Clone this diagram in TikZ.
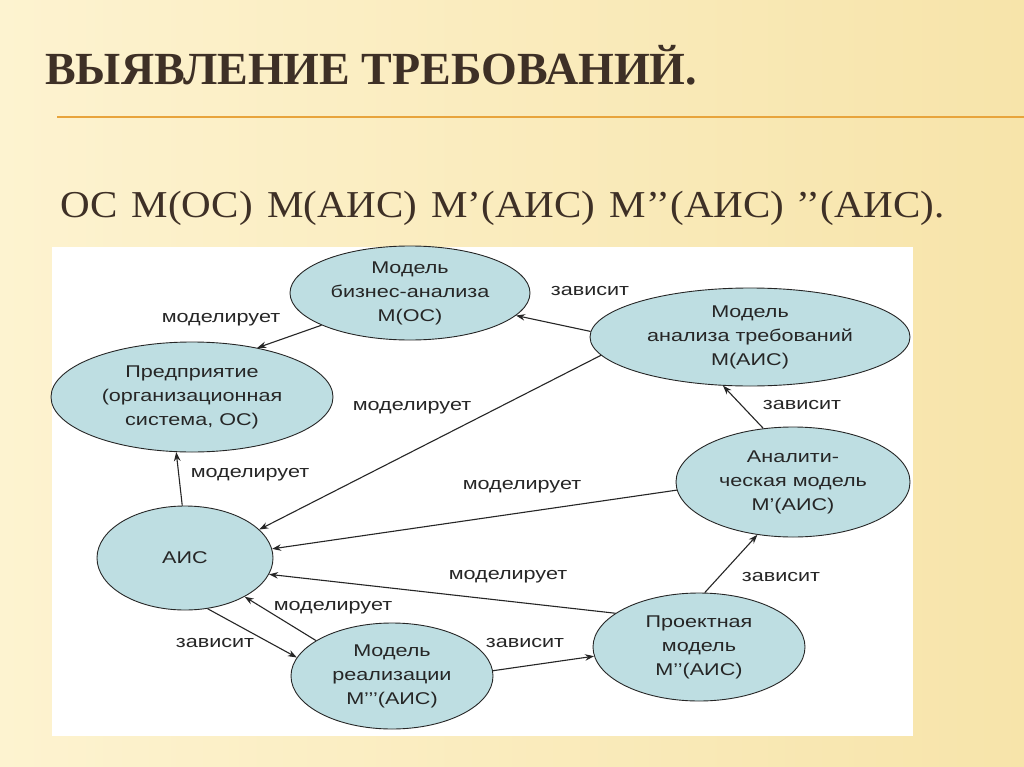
\documentclass[tikz,border=0pt]{standalone}
\usepackage{fontspec}
\setmainfont{Liberation Serif}
\newfontfamily\diagfont[FakeStretch=1.27]{Liberation Sans}
\newfontfamily\modelsfont[FakeStretch=1.08]{Liberation Serif}
\usetikzlibrary{shapes.geometric,arrows.meta}

\definecolor{slidebg}{RGB}{253,243,208}
\definecolor{slidebgdark}{RGB}{247,228,170}
\definecolor{titlebrown}{RGB}{62,48,38}
\definecolor{ruleorange}{RGB}{232,164,60}
\definecolor{ovalfill}{RGB}{190,222,226}

\tikzset{
  oval/.style={ellipse,draw=black!85,fill=ovalfill,line width=0.9pt,inner sep=-8pt,
    align=center,text=black!85,font=\diagfont\fontsize{17}{24}\selectfont},
  lbl/.style={text=black!85,font=\diagfont\fontsize{17}{19}\selectfont},
  link/.style={->,line width=1.1pt,draw=black!85}
}

\begin{document}
\begin{tikzpicture}[x=1pt,y=-1pt,>={Stealth[length=9pt,width=6.5pt]}]
\useasboundingbox (0,0) rectangle (1024,767);
\shade[left color=slidebg,right color=slidebgdark] (0,0) rectangle (1024,767);

% heading
\node[anchor=base west,inner sep=0pt,text=titlebrown,
  font=\bfseries\fontsize{46}{50}\selectfont] (title) at (45,85) {ВЫЯВЛЕНИЕ ТРЕБОВАНИЙ.};
\draw[ruleorange,line width=1.5pt] (57,117) -- (1024,117);
\node[anchor=base west,inner sep=0pt,text=titlebrown,
  font=\modelsfont\fontsize{38}{42}\selectfont] (models) at (60,218)
  {ОС\hspace{14pt}М(ОС)\hspace{14pt}М(АИС)\hspace{14pt}М’(АИС)\hspace{14pt}М’’(АИС)\hspace{12pt}’’(АИС).};

% diagram
\fill[white] (52,247) rectangle (913,736);

\node[oval,minimum width=240pt,minimum height=94pt] (bus) at (410,293) {Модель\\бизнес-анализа\\М(ОС)};
\node[oval,minimum width=320pt,minimum height=98pt] (req) at (750,337) {Модель\\анализа требований\\М(АИС)};
\node[oval,minimum width=282pt,minimum height=110pt] (ent) at (192,397) {Предприятие\\(организационная\\система, ОС)};
\node[oval,minimum width=234pt,minimum height=110pt] (ana) at (793,482) {Аналити-\\ческая модель\\М’(АИС)};
\node[oval,minimum width=176pt,minimum height=104pt] (ais) at (185,558) {АИС};
\node[oval,minimum width=202pt,minimum height=106pt] (real) at (392,676) {Модель\\реализации\\М’’’(АИС)};
\node[oval,minimum width=212pt,minimum height=108pt] (proj) at (699,647) {Проектная\\модель\\М’’(АИС)};

\draw[link] (bus.200) -- (ent.37);
\draw[link] (req.178) -- (bus.348);
\draw[link] (req.187) -- (ais.21);
\draw[link] (ais.93) -- (ent.254);
\draw[link] (ana.119) -- (req.241);
\draw[link] (ana.184) -- (ais.6);
\draw[link] (proj.158) -- (ais.349);
\draw[link] (proj.84) -- (ana.236);
\draw[link] (real.3) -- (proj.185);
\draw[link] (ais.294) -- (real.169);
\draw[link] (real.155) -- (ais.327);

\node[lbl] (m1) at (221,320) {моделирует};
\node[lbl] (d1) at (590,291) {зависит};
\node[lbl] (m2) at (412,408) {моделирует};
\node[lbl] (m3) at (250,475) {моделирует};
\node[lbl] (d2) at (802,405) {зависит};
\node[lbl] (m4) at (522,487) {моделирует};
\node[lbl] (m5) at (508,577) {моделирует};
\node[lbl] (d3) at (781,577) {зависит};
\node[lbl] (d4) at (525,643) {зависит};
\node[lbl] (d5) at (215,643) {зависит};
\node[lbl] (m6) at (333,608) {моделирует};
\end{tikzpicture}
\end{document}
